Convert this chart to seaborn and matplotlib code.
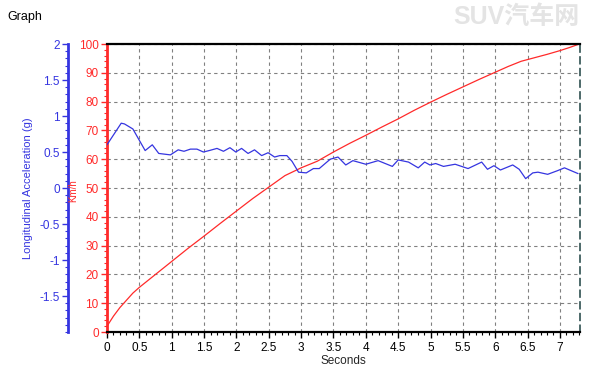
import matplotlib
matplotlib.use("Agg")
import matplotlib.pyplot as plt
import seaborn as sns
import pandas as pd
from matplotlib.ticker import MultipleLocator

# speed trace (km/h)
speed_t = [0.0, 0.1, 0.2, 0.3, 0.4, 0.5, 0.75, 1.0, 1.25, 1.5, 1.75, 2.0, 2.25, 2.5,
           2.75, 3.0, 3.25, 3.5, 3.75, 4.0, 4.25, 4.5, 4.75, 5.0, 5.25, 5.5,
           5.75, 6.0, 6.2, 6.4, 6.6, 6.8, 7.0, 7.15, 7.3]
speed_kmh = [2.0, 5.5, 8.5, 11.0, 13.5, 15.5, 20.0, 24.5, 29.0, 33.3, 37.7, 42.0, 46.3, 50.3,
             54.3, 57.0, 59.3, 62.5, 65.5, 68.3, 71.2, 74.0, 77.0, 79.8, 82.5, 85.1,
             87.7, 90.2, 92.2, 94.0, 95.2, 96.4, 97.7, 98.8, 100.0]

# longitudinal acceleration trace (g)
acc_t = [0.0, 0.22, 0.27, 0.40, 0.59, 0.70, 0.80, 0.98, 1.10, 1.19, 1.29, 1.39, 1.49,
         1.58, 1.70, 1.80, 1.90, 1.99, 2.08, 2.18, 2.28, 2.39, 2.49, 2.59, 2.67,
         2.78, 2.86, 2.96, 3.08, 3.19, 3.28, 3.45, 3.57, 3.69, 3.80, 4.0, 4.19,
         4.41, 4.5, 4.66, 4.81, 4.91, 4.99, 5.08, 5.20, 5.38, 5.58, 5.79, 5.88,
         5.98, 6.08, 6.27, 6.37, 6.47, 6.58, 6.66, 6.81, 6.96, 7.07, 7.28]
acc_g = [0.60, 0.90, 0.89, 0.82, 0.52, 0.60, 0.48, 0.46, 0.53, 0.51, 0.54, 0.54, 0.50,
         0.52, 0.55, 0.51, 0.56, 0.50, 0.55, 0.48, 0.53, 0.45, 0.49, 0.43, 0.45,
         0.45, 0.37, 0.22, 0.21, 0.27, 0.27, 0.40, 0.43, 0.32, 0.38, 0.33, 0.38,
         0.30, 0.39, 0.36, 0.28, 0.36, 0.32, 0.34, 0.30, 0.33, 0.27, 0.36, 0.26,
         0.31, 0.25, 0.32, 0.26, 0.13, 0.21, 0.22, 0.19, 0.24, 0.28, 0.20]

x_ticks = [0, 0.5, 1, 1.5, 2, 2.5, 3, 3.5, 4, 4.5, 5, 5.5, 6, 6.5, 7]
x_labels = ["0", "0.5", "1", "1.5", "2", "2.5", "3", "3.5", "4", "4.5", "5", "5.5", "6", "6.5", "7"]

RED = "#ff2a2a"
BLUE = "#3535e0"

sns.set_style("white")
plt.rcParams['font.family'] = ['Liberation Sans', 'Noto Sans CJK SC']

fig = plt.figure(figsize=(6, 3.79), dpi=100)
ax = fig.add_axes([0.1783, 0.124, 0.7884, 0.7599])

df_speed = pd.DataFrame({"t": speed_t, "v": speed_kmh})
sns.lineplot(data=df_speed, x="t", y="v", ax=ax, color=RED, linewidth=0.9)

ax.set_xlim(0, 7.31)
ax.set_ylim(0, 100)
ax.set_xticks(x_ticks)
ax.set_xticklabels(x_labels)
ax.xaxis.set_minor_locator(MultipleLocator(0.1))
ax.yaxis.set_major_locator(MultipleLocator(10))
ax.yaxis.set_minor_locator(MultipleLocator(2))
ax.grid(True, which="major", color="#808080", linestyle=(0, (3, 3)), linewidth=0.8)
ax.set_axisbelow(True)

for s in ["top", "bottom"]:
    ax.spines[s].set_color("black")
    ax.spines[s].set_linewidth(1.6)
ax.spines["left"].set_color(RED)
ax.spines["left"].set_linewidth(2)
ax.spines["right"].set_color("#2f5050")
ax.spines["right"].set_linestyle((0, (4, 3)))
ax.spines["right"].set_linewidth(1.2)

ax.tick_params(axis="y", which="major", colors=RED, labelsize=8.5, length=4, width=1, direction="out", left=True, pad=2)
ax.tick_params(axis="y", which="minor", colors=RED, length=2, width=0.8, left=True)
ax.tick_params(axis="x", which="major", colors="black", labelsize=8.5, length=4, width=1, bottom=True, pad=3)
ax.tick_params(axis="x", which="minor", length=2, width=0.8, bottom=True, color="black")
ax.set_xlabel("Seconds", fontsize=8.5, labelpad=1)
ax.set_ylabel("")

# acceleration axis, offset to the left
ax2 = ax.twinx()
df_acc = pd.DataFrame({"t": acc_t, "g": acc_g})
sns.lineplot(data=df_acc, x="t", y="g", ax=ax2, color=BLUE, linewidth=0.9)
ax2.set_ylim(-2, 2)
ax2.set_yticks([-1.5, -1, -0.5, 0, 0.5, 1, 1.5, 2])
ax2.set_yticklabels(["-1.5", "-1", "-0.5", "0", "0.5", "1", "1.5", "2"])
ax2.yaxis.set_minor_locator(MultipleLocator(0.1))
ax2.yaxis.set_ticks_position("left")
ax2.yaxis.set_label_position("left")
ax2.spines["left"].set_position(("outward", 28))
ax2.spines["left"].set_color(BLUE)
ax2.spines["left"].set_linewidth(2)
for s in ["top", "bottom", "right"]:
    ax2.spines[s].set_visible(False)
ax2.tick_params(axis="y", which="major", colors=BLUE, labelsize=8.5, length=4, width=1, pad=2)
ax2.tick_params(axis="y", which="minor", colors=BLUE, length=2, width=0.8)
ax2.set_xlabel("")
ax2.set_ylabel("Longitudinal Acceleration (g)", color=BLUE, fontsize=8)
ax2.yaxis.set_label_coords(-0.157, 0.5)

fig.text(0.122, 0.497, "Km/h", color=RED, fontsize=7, rotation=90, ha="center", va="center")
fig.text(0.013, 0.955, "Graph", color="black", fontsize=9, ha="left", va="center")
fig.text(0.86, 0.955, "SUV汽车网", color="#e4e4e4", fontsize=18, fontweight="bold",
         ha="center", va="center")

fig.savefig("out.png", dpi=100)
